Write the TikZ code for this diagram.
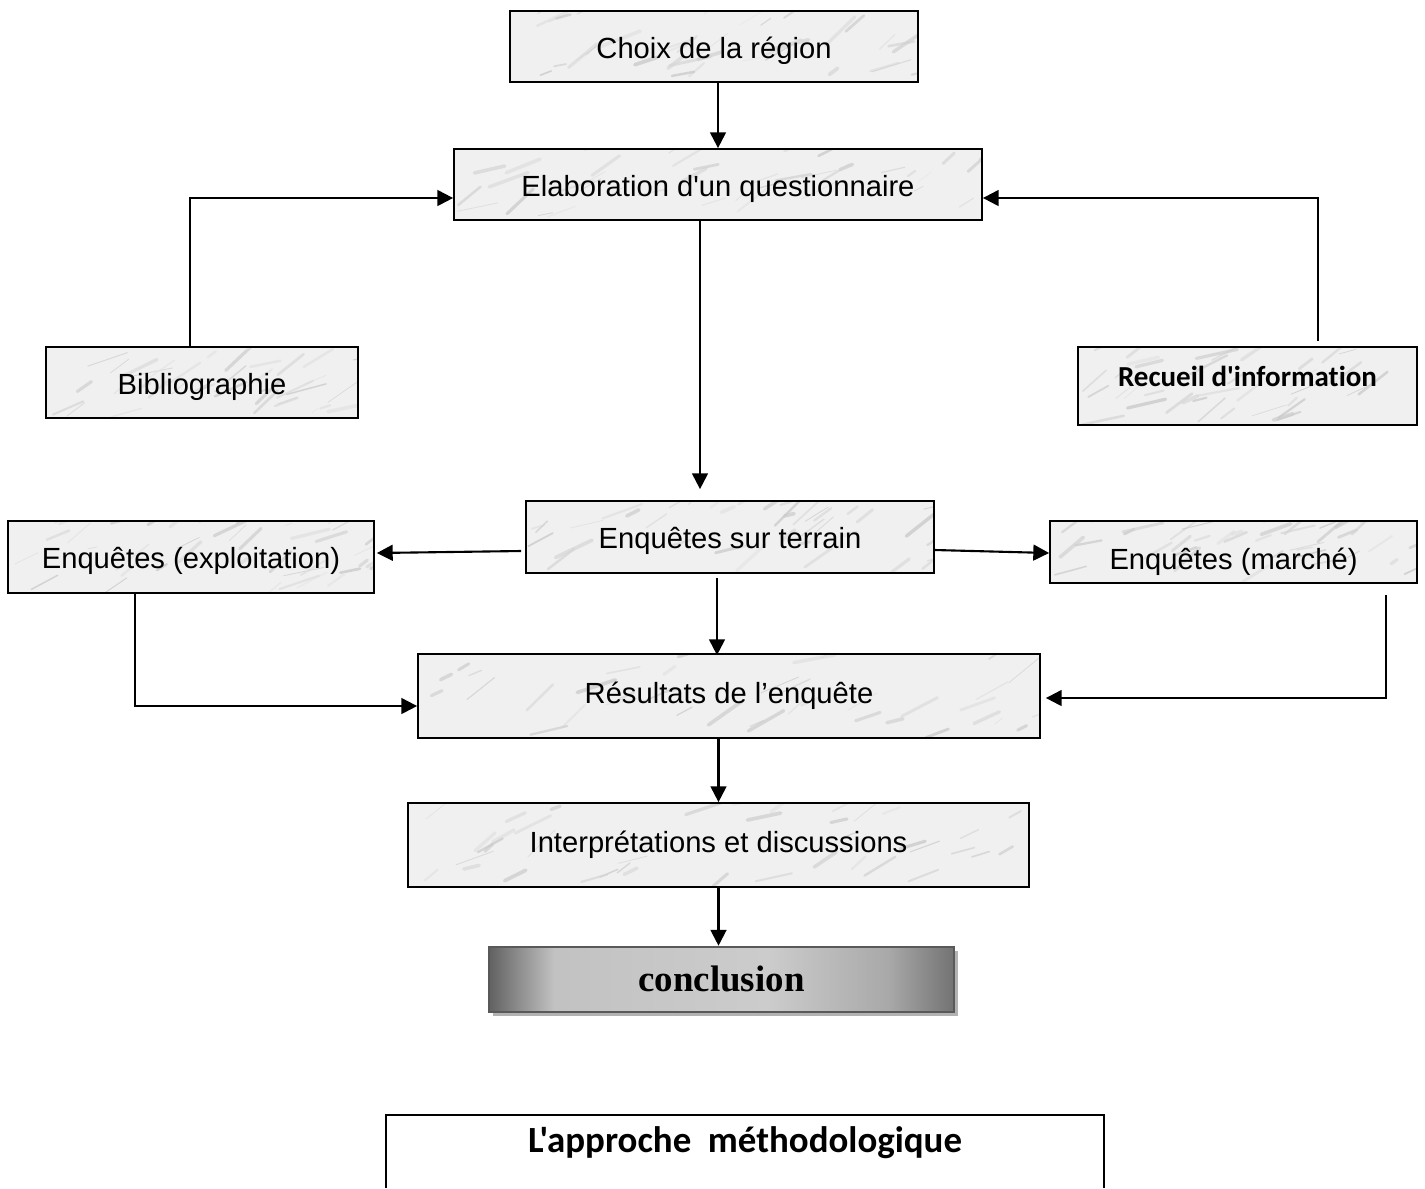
\documentclass[tikz,border=0pt]{standalone}
\usepackage{fontspec}
\setmainfont{Liberation Sans}[Ligatures=TeXOff]
\newfontfamily\calibrifont{Carlito}[Ligatures={TeXOff,NoCommon}]
\newfontfamily\timesfont{Liberation Serif}
\usetikzlibrary{arrows.meta,calc,shadows}
\pgfdeclarehorizontalshading{conclshade}{100bp}{color(0bp)=(black!62); color(25bp)=(black!62);
  color(32bp)=(black!24); color(55bp)=(black!20); color(68bp)=(black!34);
  color(75bp)=(black!55); color(100bp)=(black!55)}

\begin{document}
\pgfmathsetseed{42}
\begin{tikzpicture}[
  x=0.02cm, y=-0.02cm,
  marble/.style={draw, line width=1pt, fill=gray!12, inner sep=0pt,
    font=\fontsize{16.6}{20}\selectfont,
    path picture={
      \foreach \k in {1,...,40}{
        \pgfmathsetmacro\lw{0.3+1.8*rnd}
        \pgfmathsetmacro\gr{20+25*rnd}
        \draw[gray!\gr, line width=\lw pt, line cap=round, opacity=0.7]
          let \p1=(path picture bounding box.south west),
              \p2=(path picture bounding box.north east),
              \n1={rnd}, \n2={rnd}, \n3={10+35*rnd}, \n4={4+20*rnd} in
          (\x1+\n1*\x2-\n1*\x1, \y1+\n2*\y2-\n2*\y1) -- ++(\n3:{\n4*1pt});
      }}},
  textdown/.style={text height=#1, text depth=2pt},
  concl/.style={draw=black!65, line width=1.5pt, shading=conclshade,
    drop shadow={shadow xshift=2.5pt, shadow yshift=-2.5pt, fill=black!30, opacity=1},
    font=\timesfont\bfseries\fontsize{21}{24}\selectfont},
  boxsize/.style 2 args={minimum width=#1*0.02cm, minimum height=#2*0.02cm},
  arr/.style={-{Triangle[length=9pt,width=9pt]}, line width=1.2pt},
  link/.style={line width=1.2pt}
]
  \useasboundingbox (0,0) rectangle (1425,1188);

  % boxes
  \node[marble, boxsize={408}{71}, textdown=15.6pt] (choix) at (714,46.5) {Choix de la région};
  \node[marble, boxsize={528}{71}, textdown=15.6pt] (elab) at (718,184.5) {Elaboration d'un questionnaire};
  \node[marble, boxsize={312}{71}, textdown=15.6pt] (bib) at (202,382.5) {Bibliographie};
  \node[marble, boxsize={339}{78}, font=\calibrifont\bfseries\fontsize{16.5}{20}\selectfont,
        text height=12pt, text depth=11.5pt] (rec) at (1247.5,386) {Recueil d'information};
  \node[marble, boxsize={408}{72}, textdown=15pt] (terrain) at (730,537) {Enquêtes sur terrain};
  \node[marble, boxsize={366}{72}, textdown=15pt] (expl) at (191,557) {Enquêtes (exploitation)};
  \node[marble, boxsize={367}{62}, textdown=22pt] (marche) at (1233.5,552) {Enquêtes (marché)};
  \node[marble, boxsize={622}{84}] (res) at (729,696) {Résultats de l’enquête};
  \node[marble, boxsize={621}{84}] (interp) at (718.5,845) {Interprétations et discussions};
  \node[concl, boxsize={465}{65}, textdown=16pt] (conc) at (721.5,979.5) {conclusion};

  % arrows
  \draw[arr] (choix.south -| elab) -- (elab);
  \draw[arr] ($(bib.north)+(-12,0)$) |- ($(elab.west)+(0,13.5)$);
  \draw[arr] ($(rec.north)+(70.5,-5)$) |- ($(elab.east)+(0,13.5)$);
  \draw[arr] ($(elab.south)+(-18,0)$) -- ($(terrain.north)+(-30,-11)$);
  \draw[arr] ($(terrain.west)+(-4,14)$) -- ($(expl.east)+(2,-4)$);
  \draw[arr] ($(terrain.east)+(0,13)$) -- ($(marche.west)+(0,1)$);
  \draw[arr] ($(terrain.south)+(-13,4)$) -- ($(res.north)+(-12,2)$);
  \draw[arr] ($(expl.south)+(-56,0)$) |- ($(res.west)+(0,10)$);
  \draw[arr] ($(marche.south)+(152.5,11)$) |- ($(res.east)+(5,2)$);
  \draw[arr] (res.south -| interp) -- (interp);
  \draw[arr] (interp) -- (interp |- conc.north);

  % title
  \draw[link] (386,1188) |- (1104,1115) -- (1104,1188);
  \node[font=\calibrifont\bfseries\fontsize{21}{25}\selectfont] (titre) at (745,1143)
    {L'approche\ \ méthodologique};
\end{tikzpicture}
\end{document}
